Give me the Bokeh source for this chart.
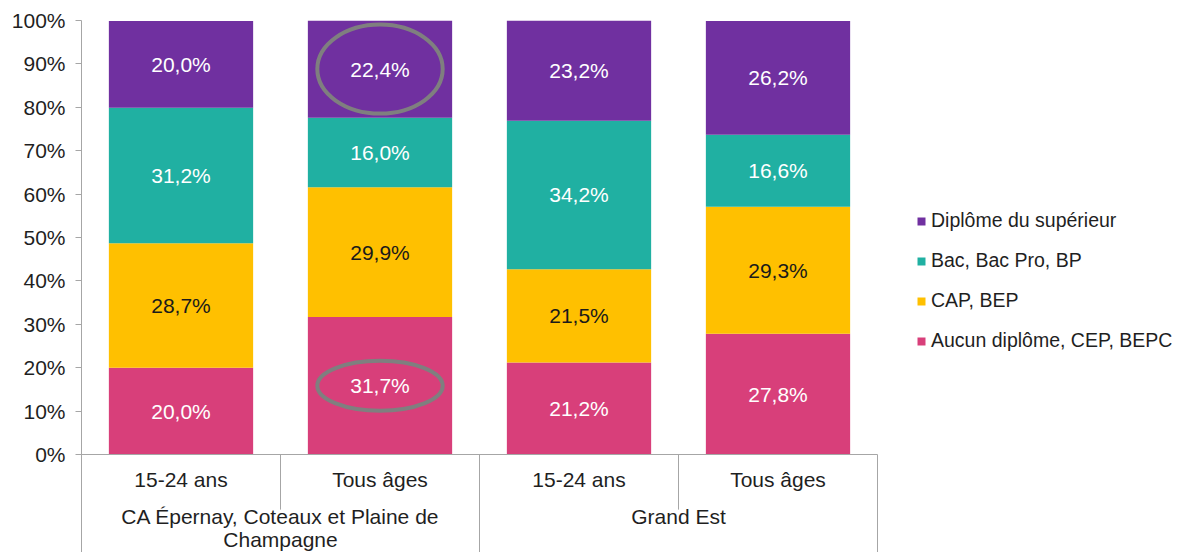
from bokeh.plotting import figure
from bokeh.models import Range1d, FixedTicker, PrintfTickFormatter, ColumnDataSource, Legend, LegendItem
from bokeh.embed import file_html
from bokeh.resources import INLINE
from bokeh.core.properties import value

# ---- data ----
groups = ["CA Épernay, Coteaux et Plaine de\nChampagne", "Grand Est"]
subcats = ["15-24 ans", "Tous âges", "15-24 ans", "Tous âges"]
series = ["Aucun diplôme, CEP, BEPC", "CAP, BEP", "Bac, Bac Pro, BP", "Diplôme du supérieur"]
aucun = [20.0, 31.7, 21.2, 27.8]
cap = [28.7, 29.9, 21.5, 29.3]
bac = [31.2, 16.0, 34.2, 16.6]
sup = [20.0, 22.4, 23.2, 26.2]
y_ticks = [0, 10, 20, 30, 40, 50, 60, 70, 80, 90, 100]
highlighted = [(1, 3), (1, 0)]  # (bar index, series index) circled

# ---- style ----
colors = ["#D83F7A", "#FFC000", "#20B0A2", "#7030A0"]
label_colors = ["white", "#1a1a1a", "white", "white"]
FONT = "Liberation Sans"
AX = "#A6A6A6"
TXT = "#1f1f1f"
FS = "21px"

values = [aucun, cap, bac, sup]
n = len(subcats)
xs = [i + 0.5 for i in range(n)]

W, H = 1186, 552
LEFT, TOP = 81, 20
PX_X = 199.0
PX_Y = 4.34
frame_h = H - TOP
y_lo = 100 - frame_h / PX_Y

p = figure(width=W, height=H, output_backend="svg", toolbar_location=None,
           x_range=Range1d(0, (W - LEFT) / PX_X), y_range=Range1d(y_lo, 100),
           min_border_left=LEFT, min_border_right=0, min_border_top=TOP, min_border_bottom=0)
p.xaxis.visible = False
p.xgrid.visible = False
p.ygrid.visible = False
p.outline_line_color = None
p.background_fill_color = "white"

ya = p.yaxis[0]
ya.ticker = FixedTicker(ticks=y_ticks)
ya.formatter = PrintfTickFormatter(format="%d%%")
ya.axis_line_color = AX
ya.major_tick_line_color = AX
ya.major_tick_out = 6
ya.major_tick_in = 0
ya.minor_tick_line_color = None
ya.major_label_standoff = 10
ya.major_label_text_font = FONT
ya.major_label_text_font_size = FS
ya.major_label_text_color = TXT

# stacked bars
renderers = []
bottoms = [0.0] * n
for s, vals in enumerate(values):
    tops = [b + v for b, v in zip(bottoms, vals)]
    src = ColumnDataSource(dict(x=xs, bottom=bottoms, top=tops,
                                mid=[(b + t) / 2 for b, t in zip(bottoms, tops)],
                                lab=[("%.1f%%" % v).replace(".", ",") for v in vals]))
    r = p.vbar(x="x", bottom="bottom", top="top", width=0.725, source=src,
               fill_color=colors[s], line_color=None)
    renderers.append(r)
    p.text(x="x", y="mid", text="lab", source=src, text_align="center", text_baseline="middle",
           text_font=value(FONT), text_font_size=FS, text_color=label_colors[s])
    bottoms = tops

# highlight ellipses
ell_heights = {3: 20.5, 0: 11.5}
for bi, si in highlighted:
    lo = sum(values[k][bi] for k in range(si))
    mid = lo + values[si][bi] / 2
    p.ellipse(x=[xs[bi]], y=[mid], width=0.63, height=ell_heights[si],
              fill_color=None, line_color="#7F7F7F", line_width=4)

# category axis drawn manually
p.segment(x0=[0], y0=[0], x1=[n], y1=[0], line_color=AX, line_width=1)
sub_sep = [1, 3]
grp_sep = [2, 4]
p.segment(x0=sub_sep, y0=[0] * len(sub_sep), x1=sub_sep, y1=[-12.7] * len(sub_sep),
          line_color=AX, line_width=1)
p.segment(x0=grp_sep, y0=[0] * len(grp_sep), x1=grp_sep, y1=[y_lo] * len(grp_sep),
          line_color=AX, line_width=1)
p.text(x=xs, y=[-5.8] * n, text=subcats, text_align="center", text_baseline="middle",
       text_font=value(FONT), text_font_size=FS, text_color=TXT)
gx = [1.0, 3.0]
p.text(x=gx, y=[-11.6] * len(groups), text=groups, text_align="center", text_baseline="top",
       text_font=value(FONT), text_font_size=FS, text_color=TXT, text_line_height=1.0)

# legend
items = [LegendItem(label=series[s], renderers=[renderers[s]]) for s in [3, 2, 1, 0]]
leg = Legend(items=items, location=(835, 200), orientation="vertical",
             glyph_width=10, glyph_height=10, label_standoff=5, spacing=17,
             padding=0, margin=0, border_line_color=None, background_fill_alpha=0,
             label_text_font=FONT, label_text_font_size="19.5px", label_text_color=TXT,
             label_height=20)
p.add_layout(leg, "center")

open("out.html", "w").write(file_html(p, INLINE))
